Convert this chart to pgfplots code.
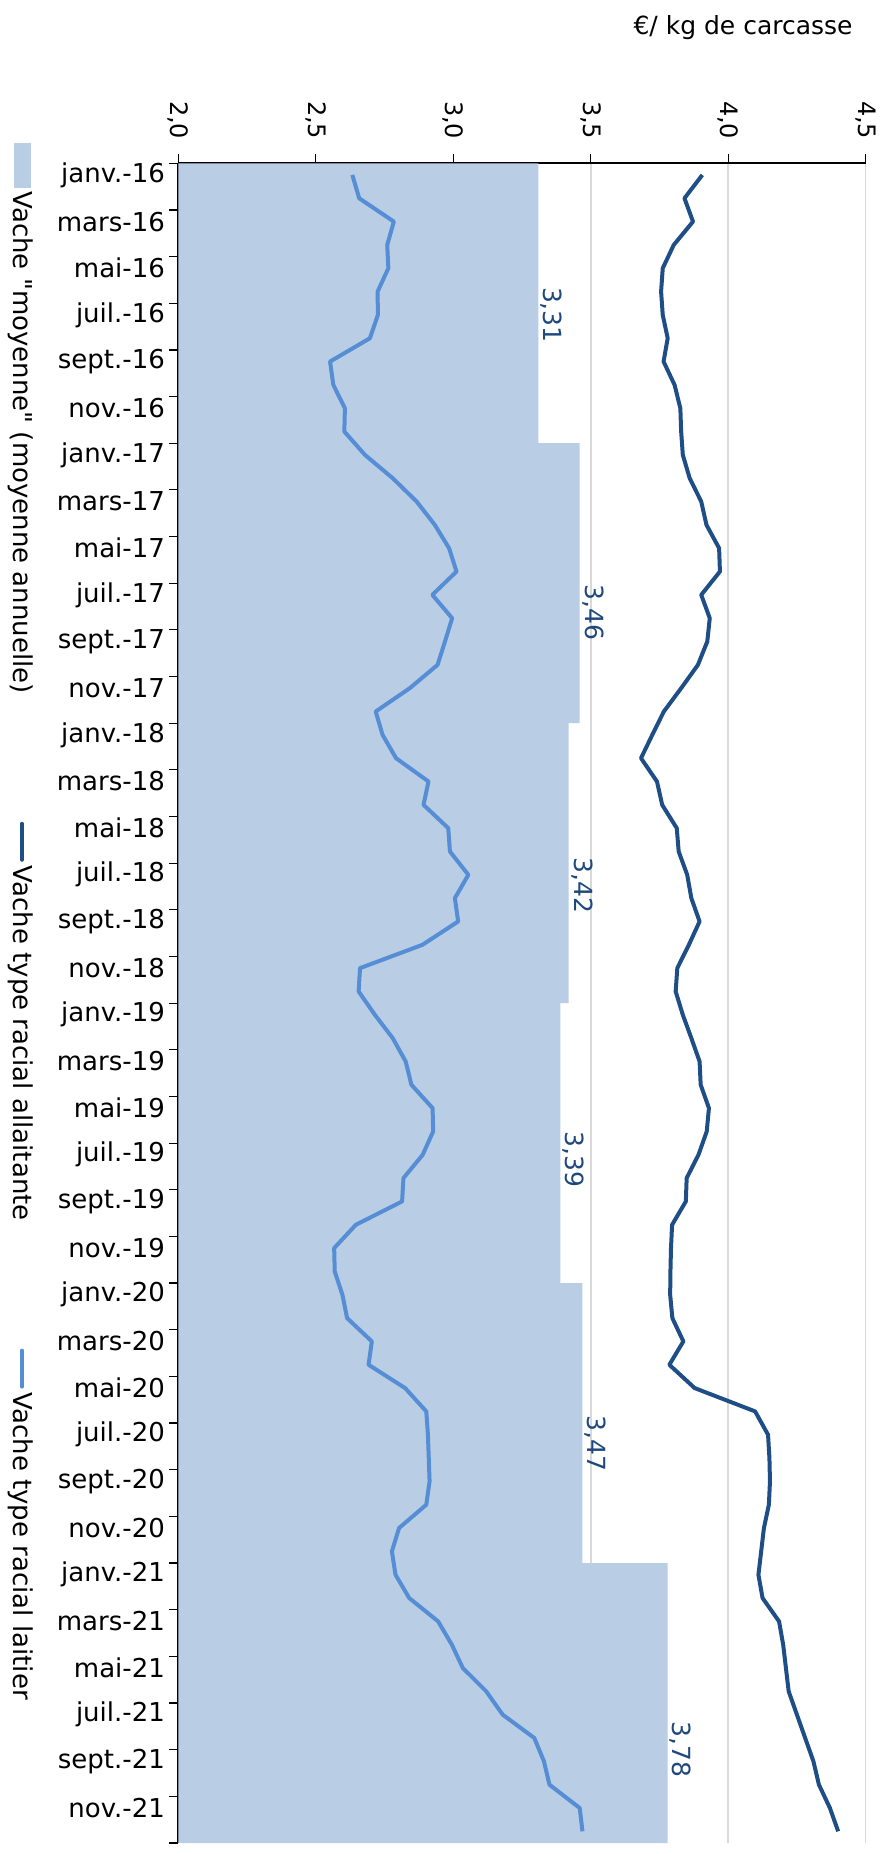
\documentclass[border=0pt]{standalone}
\usepackage{fontspec}
\setmainfont{DejaVu Sans}[Ligatures=TeXOff]
\usepackage{pgfplots}
\pgfplotsset{compat=1.18}
\definecolor{barblue}{HTML}{B9CDE5}
\definecolor{lightline}{HTML}{558ED5}
\definecolor{darkline}{HTML}{1F4E86}
\definecolor{labblue}{HTML}{1F497D}
\begin{document}
\begin{tikzpicture}
\begin{axis}[
  at={(0,0)}, anchor=south west,
  scale only axis, width=343.75pt, height=840pt,
  xmin=2, xmax=4.5, ymin=-71.5, ymax=0.5,
  axis x line*=top, axis y line*=left,
  axis line style={line width=0.8pt},
  tick align=outside, major tick length=4.5pt,
  tick style={black, line width=0.6pt},
  xtick={2,2.5,3,3.5,4,4.5},
  xticklabels={{2,0},{2,5},{3,0},{3,5},{4,0},{4,5}},
  xticklabel style={yshift=4pt, rotate=-90, anchor=east, font=\fontsize{12}{14}\selectfont},
  ytick={0.5,-1.5,...,-71.5},
  yticklabels={janv.-16,mars-16,mai-16,juil.-16,sept.-16,nov.-16,
    janv.-17,mars-17,mai-17,juil.-17,sept.-17,nov.-17,
    janv.-18,mars-18,mai-18,juil.-18,sept.-18,nov.-18,
    janv.-19,mars-19,mai-19,juil.-19,sept.-19,nov.-19,
    janv.-20,mars-20,mai-20,juil.-20,sept.-20,nov.-20,
    janv.-21,mars-21,mai-21,juil.-21,sept.-21,nov.-21,{}},
  yticklabel style={yshift=-5.833pt, inner sep=2pt, font=\fontsize{13}{15}\selectfont},
  xmajorgrids, grid style={color=black!15, line width=0.8pt},
  title={€/ kg de carcasse},
  title style={at={(1,1)}, anchor=east, xshift=-3pt, yshift=62pt, font=\fontsize{12.5}{15}\selectfont},
]
% moyenne annuelle (une barre par an, 12 mois de haut)
\addplot[xbar, bar width=12, bar shift=0, fill=barblue, draw=none]
  coordinates {(3.31,-5.5) (3.46,-17.5) (3.42,-29.5) (3.39,-41.5) (3.47,-53.5) (3.78,-65.5)};
% allaitante
\addplot[darkline, line width=2pt, line join=round, mark=none]
  table[row sep=\\] {
x y\\
3.906 0\\ 3.841 -1\\ 3.872 -2\\ 3.802 -3\\ 3.762 -4\\ 3.756 -5\\
3.762 -6\\ 3.780 -7\\ 3.765 -8\\ 3.805 -9\\ 3.826 -10\\ 3.829 -11\\
3.835 -12\\ 3.860 -13\\ 3.902 -14\\ 3.921 -15\\ 3.967 -16\\ 3.970 -17\\
3.902 -18\\ 3.933 -19\\ 3.924 -20\\ 3.890 -21\\ 3.829 -22\\ 3.766 -23\\
3.724 -24\\ 3.683 -25\\ 3.741 -26\\ 3.760 -27\\ 3.813 -28\\ 3.820 -29\\
3.851 -30\\ 3.866 -31\\ 3.896 -32\\ 3.857 -33\\ 3.815 -34\\ 3.809 -35\\
3.835 -36\\ 3.866 -37\\ 3.896 -38\\ 3.900 -39\\ 3.930 -40\\ 3.922 -41\\
3.892 -42\\ 3.849 -43\\ 3.846 -44\\ 3.796 -45\\ 3.792 -46\\ 3.790 -47\\
3.789 -48\\ 3.797 -49\\ 3.837 -50\\ 3.786 -51\\ 3.878 -52\\ 4.098 -53\\
4.145 -54\\ 4.150 -55\\ 4.152 -56\\ 4.148 -57\\ 4.130 -58\\ 4.120 -59\\
4.110 -60\\ 4.125 -61\\ 4.185 -62\\ 4.200 -63\\ 4.210 -64\\ 4.220 -65\\
4.250 -66\\ 4.280 -67\\ 4.310 -68\\ 4.330 -69\\ 4.370 -70\\ 4.400 -71\\
};
% laitier
\addplot[lightline, line width=2pt, line join=round, mark=none]
  table[row sep=\\] {
x y\\
2.633 0\\ 2.658 -1\\ 2.784 -2\\ 2.760 -3\\ 2.764 -4\\ 2.725 -5\\
2.726 -6\\ 2.697 -7\\ 2.552 -8\\ 2.564 -9\\ 2.606 -10\\ 2.604 -11\\
2.679 -12\\ 2.780 -13\\ 2.867 -14\\ 2.933 -15\\ 2.985 -16\\ 3.012 -17\\
2.924 -18\\ 2.996 -19\\ 2.970 -20\\ 2.943 -21\\ 2.842 -22\\ 2.718 -23\\
2.743 -24\\ 2.792 -25\\ 2.910 -26\\ 2.892 -27\\ 2.982 -28\\ 2.988 -29\\
3.055 -30\\ 3.006 -31\\ 3.018 -32\\ 2.888 -33\\ 2.661 -34\\ 2.656 -35\\
2.715 -36\\ 2.780 -37\\ 2.827 -38\\ 2.848 -39\\ 2.925 -40\\ 2.927 -41\\
2.889 -42\\ 2.819 -43\\ 2.814 -44\\ 2.646 -45\\ 2.567 -46\\ 2.569 -47\\
2.597 -48\\ 2.614 -49\\ 2.704 -50\\ 2.692 -51\\ 2.825 -52\\ 2.902 -53\\
2.908 -54\\ 2.911 -55\\ 2.914 -56\\ 2.902 -57\\ 2.803 -58\\ 2.777 -59\\
2.790 -60\\ 2.840 -61\\ 2.945 -62\\ 2.995 -63\\ 3.035 -64\\ 3.120 -65\\
3.180 -66\\ 3.295 -67\\ 3.330 -68\\ 3.350 -69\\ 3.460 -70\\ 3.470 -71\\
};
% etiquettes des moyennes
\addplot[draw=none, mark=none, nodes near coords, point meta=explicit symbolic,
  nodes near coords style={rotate=-90, anchor=south, inner sep=1pt, text=labblue,
    font=\fontsize{12.5}{15}\selectfont}]
  table[meta=lab, row sep=\\] {
x y lab\\
3.31 -6.0 3,31\\
3.46 -18.75 3,46\\
3.42 -30.45 3,42\\
3.39 -42.2 3,39\\
3.47 -54.37 3,47\\
3.78 -67.5 3,78\\
};
\end{axis}
% legende verticale : axe vide tourne de -90 degres
\begin{scope}[transform canvas={rotate=-90}]
\begin{axis}[
  hide axis, scale only axis, width=10pt, height=10pt,
  xmin=0, xmax=1, ymin=0, ymax=1,
  at={(-850.5pt,-78.15pt)}, anchor=west,
  legend columns=-1,
  legend style={at={(0,0.5)}, anchor=west, draw=none, fill=none, inner sep=0pt,
    font=\fontsize{13}{15}\selectfont,
    /tikz/every even column/.append style={column sep=62pt}},
]
\addlegendimage{legend image code/.code={\fill[barblue] (0pt,-4pt) rectangle (22pt,4pt);}}
\addlegendentry{Vache "moyenne" (moyenne annuelle)}
\addlegendimage{legend image code/.code={\draw[darkline, line width=2pt, line cap=round] (1pt,0pt) -- (19pt,0pt);}}
\addlegendentry{Vache type racial allaitante}
\addlegendimage{legend image code/.code={\draw[lightline, line width=2pt, line cap=round] (1pt,0pt) -- (19pt,0pt);}}
\addlegendentry{Vache type racial laitier}
\end{axis}
\end{scope}
\pgfresetboundingbox
\path[use as bounding box] (-89.15pt,-5.5pt) rectangle (351.35pt,921.65pt);
\end{tikzpicture}
\end{document}
